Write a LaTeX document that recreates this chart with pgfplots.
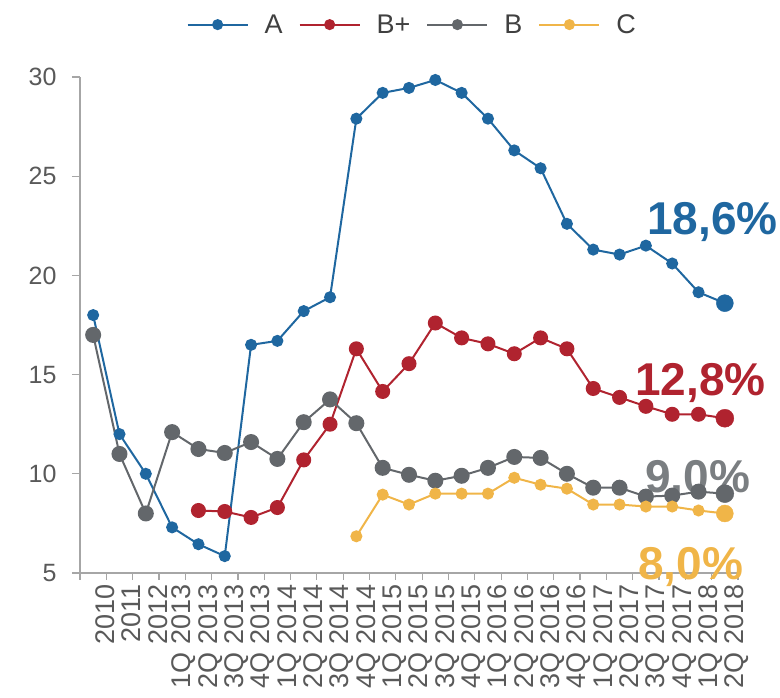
\documentclass[border=0pt]{standalone}
\usepackage{fontspec}
\setmainfont{Liberation Sans}
\usepackage{pgfplots}
\pgfplotsset{compat=1.18}
\definecolor{cA}{HTML}{1F67A0}
\definecolor{cBp}{HTML}{B0232F}
\definecolor{cB}{HTML}{63676B}
\definecolor{cC}{HTML}{F0B548}
\definecolor{axisgray}{HTML}{A6A6A6}
\definecolor{labgray}{HTML}{595959}
\begin{document}
\begin{tikzpicture}
\begin{axis}[
  name=ax, at={(0,0)}, anchor=south west,
  scale only axis, width=658pt, height=496pt,
  xmin=-0.5, xmax=24.5, ymin=5, ymax=30,
  clip=false,
  /pgf/number format/assume math mode=true,
  axis x line*=bottom, axis y line*=left,
  axis line style={axisgray, line width=1.4pt},
  tick style={axisgray, line width=1.2pt},
  tick align=outside,
  ytick={5,10,...,30},
  major tick length=8pt,
  minor tick length=7pt,
  xtick={0,...,24},
  x tick style={draw=none},
  minor xtick={-0.5,0.5,...,24.5},
  minor x tick style={draw=axisgray, line width=1.2pt},
  xticklabels={2010,2011,2012,1Q 2013,2Q 2013,3Q 2013,4Q 2013,1Q 2014,2Q 2014,3Q 2014,4Q 2014,1Q 2015,2Q 2015,3Q 2015,4Q 2015,1Q 2016,2Q 2016,3Q 2016,4Q 2016,1Q 2017,2Q 2017,3Q 2017,4Q 2017,1Q 2018,2Q 2018},
  xticklabel style={rotate=90, anchor=east, font=\fontsize{27}{27}\selectfont, text=labgray, yshift=-12pt},
  yticklabel style={font=\fontsize{25}{25}\selectfont, text=labgray, xshift=-12pt},
  legend style={at={(0.505,1)}, anchor=south, yshift=38pt, draw=none, fill=none,
    font=\fontsize{27}{27}\selectfont, text=black!75, column sep=14pt},
  legend columns=4,
  legend image code/.code={\draw[mark repeat=2,mark phase=2,#1, mark size=4.5pt] plot coordinates {(0pt,0pt) (30pt,0pt) (60pt,0pt)};},
]
\addplot[cA, line width=2pt, mark=*, mark size=5pt] coordinates {
(0,18.0) (1,12.0) (2,10.0) (3,7.3) (4,6.45) (5,5.85) (6,16.5) (7,16.7) (8,18.2) (9,18.9)
(10,27.9) (11,29.2) (12,29.45) (13,29.85) (14,29.2) (15,27.9) (16,26.3) (17,25.4) (18,22.6)
(19,21.3) (20,21.05) (21,21.5) (22,20.6) (23,19.15) (24,18.6)};
\addlegendentry{A}
\addplot[cBp, line width=2pt, mark=*, mark size=6.5pt] coordinates {
(4,8.15) (5,8.1) (6,7.8) (7,8.3) (8,10.7) (9,12.5) (10,16.3) (11,14.15) (12,15.55) (13,17.6)
(14,16.85) (15,16.55) (16,16.05) (17,16.85) (18,16.3) (19,14.3) (20,13.85) (21,13.4)
(22,13.0) (23,13.0) (24,12.8)};
\addlegendentry{B+}
\addplot[cB, line width=2pt, mark=*, mark size=7pt] coordinates {
(0,17.0) (1,11.0) (2,8.0) (3,12.1) (4,11.25) (5,11.05) (6,11.6) (7,10.75) (8,12.6) (9,13.75)
(10,12.55) (11,10.3) (12,9.95) (13,9.65) (14,9.9) (15,10.3) (16,10.85) (17,10.8) (18,10.0)
(19,9.3) (20,9.3) (21,8.85) (22,8.9) (23,9.1) (24,9.0)};
\addlegendentry{B}
\addplot[cC, line width=2pt, mark=*, mark size=5pt] coordinates {
(10,6.85) (11,8.95) (12,8.45) (13,9.0) (14,9.0) (15,9.0) (16,9.8) (17,9.45) (18,9.25)
(19,8.45) (20,8.45) (21,8.35) (22,8.35) (23,8.15) (24,8.0)};
\addlegendentry{C}
\addplot[cA, only marks, mark=*, mark size=8.5pt, forget plot] coordinates {(24,18.6)};
\addplot[cBp, only marks, mark=*, mark size=9pt, forget plot] coordinates {(24,12.8)};
\addplot[cB, only marks, mark=*, mark size=9pt, forget plot] coordinates {(24,9.0)};
\addplot[cC, only marks, mark=*, mark size=8.5pt, forget plot] coordinates {(24,8.0)};
\node[anchor=base west, inner sep=0pt, text=cA, font=\fontsize{46}{46}\selectfont\bfseries] at (axis cs:21.04,22.04) {18,6\%};
\node[anchor=base west, inner sep=0pt, text=cBp, font=\fontsize{46}{46}\selectfont\bfseries] at (axis cs:20.59,13.97) {12,8\%};
\node[anchor=base west, inner sep=0pt, text=cB!85!white, font=\fontsize{46}{46}\selectfont\bfseries] at (axis cs:20.97,9.08) {9,0\%};
\node[anchor=base west, inner sep=0pt, text=cC, font=\fontsize{46}{46}\selectfont\bfseries] at (axis cs:20.7,4.65) {8,0\%};
\end{axis}
\pgfresetboundingbox
\path[use as bounding box] (ax.south west) ++(-80pt,-125pt) rectangle ++(780pt,698pt);
\end{tikzpicture}
\end{document}
